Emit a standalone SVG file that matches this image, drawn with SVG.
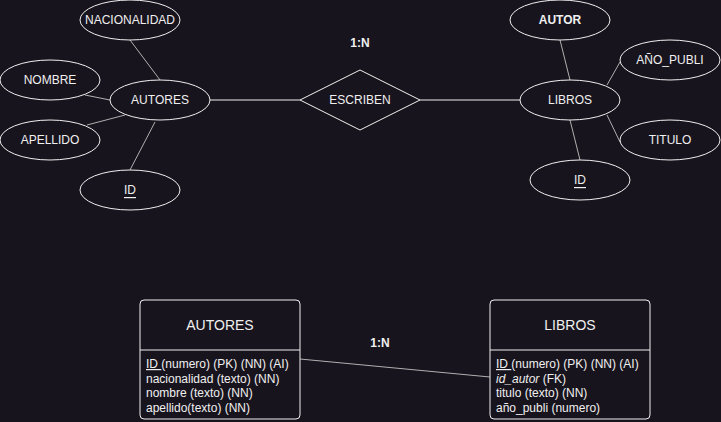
<svg xmlns="http://www.w3.org/2000/svg" width="721" height="422" viewBox="0 0 721 422">
<style>
.sh{fill:#18141d;stroke:#f0f0f0;stroke-width:1}
.t{font-family:"Liberation Sans",Arial,sans-serif;font-size:12px;fill:#f0f0f0;text-anchor:middle;dominant-baseline:central}
.b{font-weight:bold}
.h{font-size:14px}
.r{font-family:"Liberation Sans",Arial,sans-serif;font-size:12px;fill:#f0f0f0}
.al{stroke:#b0b0b0;stroke-width:1;fill:none}
.rl{stroke:#f0f0f0;stroke-width:1;fill:none}
</style>
<rect width="721" height="422" fill="#18141d"/>
<g id="connectors">
<line class="al" x1="130" y1="40" x2="160" y2="80"/>
<line class="al" x1="85" y1="95" x2="110" y2="100"/>
<line class="al" x1="87" y1="125" x2="125" y2="115"/>
<line class="al" x1="130" y1="170" x2="155" y2="122"/>
<line class="rl" x1="210" y1="100" x2="300" y2="100"/>
<line class="rl" x1="420" y1="100" x2="520" y2="100"/>
<line class="al" x1="560" y1="40" x2="570" y2="80"/>
<line class="al" x1="620" y1="62" x2="607" y2="85"/>
<line class="al" x1="607" y1="115" x2="620" y2="142"/>
<line class="al" x1="570" y1="120" x2="580" y2="160"/>
<line class="al" x1="300" y1="359" x2="490" y2="377"/>
<text class="t b" x="360" y="43">1:N</text>
<text class="t b" x="380" y="343">1:N</text>
</g>
<g id="nacionalidad"><ellipse class="sh" cx="130" cy="20" rx="50" ry="20"/><text class="t" x="130" y="20">NACIONALIDAD</text></g>
<g id="nombre"><ellipse class="sh" cx="50" cy="80" rx="50" ry="20"/><text class="t" x="50" y="80">NOMBRE</text></g>
<g id="autores"><ellipse class="sh" cx="160" cy="100" rx="50" ry="20"/><text class="t" x="160" y="100">AUTORES</text></g>
<g id="apellido"><ellipse class="sh" cx="50" cy="140" rx="50" ry="20"/><text class="t" x="50" y="140">APELLIDO</text></g>
<g id="id-autores"><ellipse class="sh" cx="130" cy="190" rx="50" ry="20"/><text class="t" x="130" y="190" text-decoration="underline">ID</text></g>
<g id="escriben"><polygon class="sh" points="300,100 360,70 420,100 360,130"/><text class="t" x="360" y="100">ESCRIBEN</text></g>
<g id="libros"><ellipse class="sh" cx="570" cy="100" rx="50" ry="20"/><text class="t" x="570" y="100">LIBROS</text></g>
<g id="autor"><ellipse class="sh" cx="560" cy="20" rx="50" ry="20"/><text class="t b" x="560" y="20">AUTOR</text></g>
<g id="anio-publi"><ellipse class="sh" cx="670" cy="60" rx="50" ry="20"/><text class="t" x="670" y="60">AÑO_PUBLI</text></g>
<g id="titulo"><ellipse class="sh" cx="670" cy="140" rx="50" ry="20"/><text class="t" x="670" y="140">TITULO</text></g>
<g id="id-libros"><ellipse class="sh" cx="580" cy="180" rx="50" ry="20"/><text class="t" x="580" y="180" text-decoration="underline">ID</text></g>
<g id="tabla-autores">
<rect class="sh" x="140" y="300" width="160" height="119" rx="4"/>
<line class="rl" x1="140" y1="350" x2="300" y2="350"/>
<text class="t h" x="220" y="325">AUTORES</text>
<text class="r" x="146" y="368"><tspan text-decoration="underline">ID </tspan>(numero) (PK) (NN) (AI)</text>
<text class="r" x="146" y="382.5">nacionalidad (texto) (NN)</text>
<text class="r" x="146" y="397">nombre (texto) (NN)</text>
<text class="r" x="146" y="411.5">apellido(texto) (NN)</text>
</g>
<g id="tabla-libros">
<rect class="sh" x="490" y="300" width="160" height="119" rx="4"/>
<line class="rl" x1="490" y1="350" x2="650" y2="350"/>
<text class="t h" x="570" y="325">LIBROS</text>
<text class="r" x="496" y="368"><tspan text-decoration="underline">ID </tspan>(numero) (PK) (NN) (AI)</text>
<text class="r" x="496" y="382.5"><tspan font-style="italic">id_autor</tspan> (FK)</text>
<text class="r" x="496" y="397">titulo (texto) (NN)</text>
<text class="r" x="496" y="411.5">año_publi (numero)</text>
</g>
</svg>
